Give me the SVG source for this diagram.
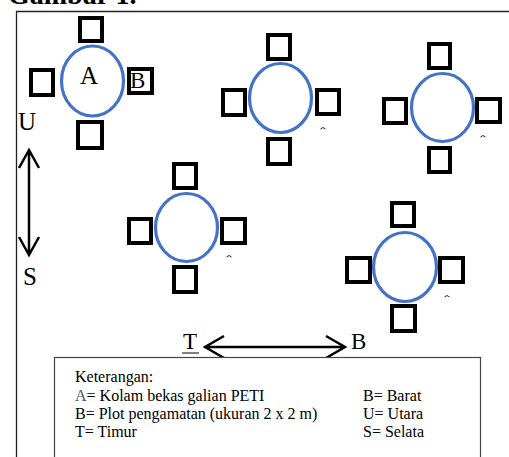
<svg xmlns="http://www.w3.org/2000/svg" width="509" height="457" viewBox="0 0 509 457">
  <defs>
    <style>
      .pond { fill: none; stroke: #4472C4; stroke-width: 3.2; }
      .plot { fill: #fff; stroke: #000; stroke-width: 4; }
      .frame { fill: none; stroke: #222; stroke-width: 1.3; }
      .lbl { font-family: "Liberation Serif", "Times New Roman", serif; fill: #000; }
      .big { font-size: 23px; }
      .dir { font-size: 25px; }
      .leg { font-size: 16px; }
      .arrow { fill: none; stroke: #000; stroke-width: 2.5; }
      .tick { fill: none; stroke: #222; stroke-width: 1; }
    </style>
  </defs>

  <!-- caption, clipped by the top edge -->
  <text class="lbl" x="8" y="4" font-size="28" font-weight="bold">Gambar 1.</text>

  <!-- outer frame -->
  <path class="frame" d="M16.5 457 V11.5 H509"/>

  <!-- pond A with plots -->
  <g id="pond-a">
    <ellipse class="pond" cx="92.5" cy="81" rx="31" ry="35"/>
    <rect class="plot" x="80" y="18" width="22" height="23"/>
    <rect class="plot" x="31" y="70" width="22" height="25"/>
    <rect class="plot" x="129" y="69" width="23" height="24"/>
    <rect class="plot" x="78" y="122" width="24" height="26"/>
    <text class="lbl" x="80" y="84" font-size="25">A</text>
    <text class="lbl big" x="130" y="88">B</text>
  </g>

  <g id="pond-2">
    <ellipse class="pond" cx="280.5" cy="98" rx="31" ry="34.5"/>
    <rect class="plot" x="268" y="35" width="22" height="24"/>
    <rect class="plot" x="223" y="90" width="22" height="25"/>
    <rect class="plot" x="317" y="90" width="22" height="24"/>
    <rect class="plot" x="268" y="139" width="22" height="25"/>
    <path class="tick" d="M320.5 129 q2.5 -3 5 0"/>
  </g>

  <g id="pond-3">
    <ellipse class="pond" cx="442.5" cy="107.5" rx="31" ry="34"/>
    <rect class="plot" x="429" y="44" width="21" height="24"/>
    <rect class="plot" x="384" y="99" width="22" height="24"/>
    <rect class="plot" x="477" y="99" width="23" height="23"/>
    <rect class="plot" x="429" y="148" width="21" height="24"/>
    <path class="tick" d="M480.5 137 q2.5 -3 5 0"/>
  </g>

  <g id="pond-4">
    <ellipse class="pond" cx="186.5" cy="227.5" rx="31" ry="34"/>
    <rect class="plot" x="174" y="164" width="22" height="24"/>
    <rect class="plot" x="129" y="219" width="22" height="24"/>
    <rect class="plot" x="222" y="219" width="23" height="24"/>
    <rect class="plot" x="174" y="267" width="22" height="25"/>
    <path class="tick" d="M226.5 257 q2.5 -3 5 0"/>
  </g>

  <g id="pond-5">
    <ellipse class="pond" cx="405" cy="267" rx="31.5" ry="34.5"/>
    <rect class="plot" x="392" y="203" width="22" height="23"/>
    <rect class="plot" x="347" y="258" width="23" height="24"/>
    <rect class="plot" x="440" y="258" width="23" height="24"/>
    <rect class="plot" x="392" y="306" width="23" height="25"/>
    <path class="tick" d="M444.5 297 q2.5 -3 5 0"/>
  </g>

  <!-- compass arrows -->
  <g id="connectors">
    <path class="arrow" d="M29 150 V255 M19 168 L29 150 L39 168 M19 237 L29 255 L39 237"/>
    <path class="arrow" d="M205 347 H345 M224 336 L205 347 L224 358 M326 336 L345 347 L326 358"/>
  </g>

  <g id="compass-labels">
    <text class="lbl dir" x="18" y="130">U</text>
    <text class="lbl dir" x="23" y="285">S</text>
    <text class="lbl big" x="183" y="349">T</text>
    <path d="M182 353 H199" stroke="#000" stroke-width="1"/>
    <text class="lbl big" x="351" y="349">B</text>
  </g>

  <!-- legend -->
  <g id="legend">
    <rect x="54.5" y="357.5" width="426" height="110" fill="#fff" stroke="#444" stroke-width="1.2"/>
    <text class="lbl leg" x="75" y="382">Keterangan:</text>
    <text class="lbl leg" x="75" y="401"><tspan fill="#44546A">A</tspan>= Kolam bekas galian PETI</text>
    <text class="lbl leg" x="75" y="419">B= Plot pengamatan (ukuran 2 x 2 m)</text>
    <text class="lbl leg" x="75" y="437">T= Timur</text>
    <text class="lbl leg" x="363" y="401">B= Barat</text>
    <text class="lbl leg" x="363" y="419">U= Utara</text>
    <text class="lbl leg" x="363" y="437">S= Selata</text>
  </g>
</svg>
